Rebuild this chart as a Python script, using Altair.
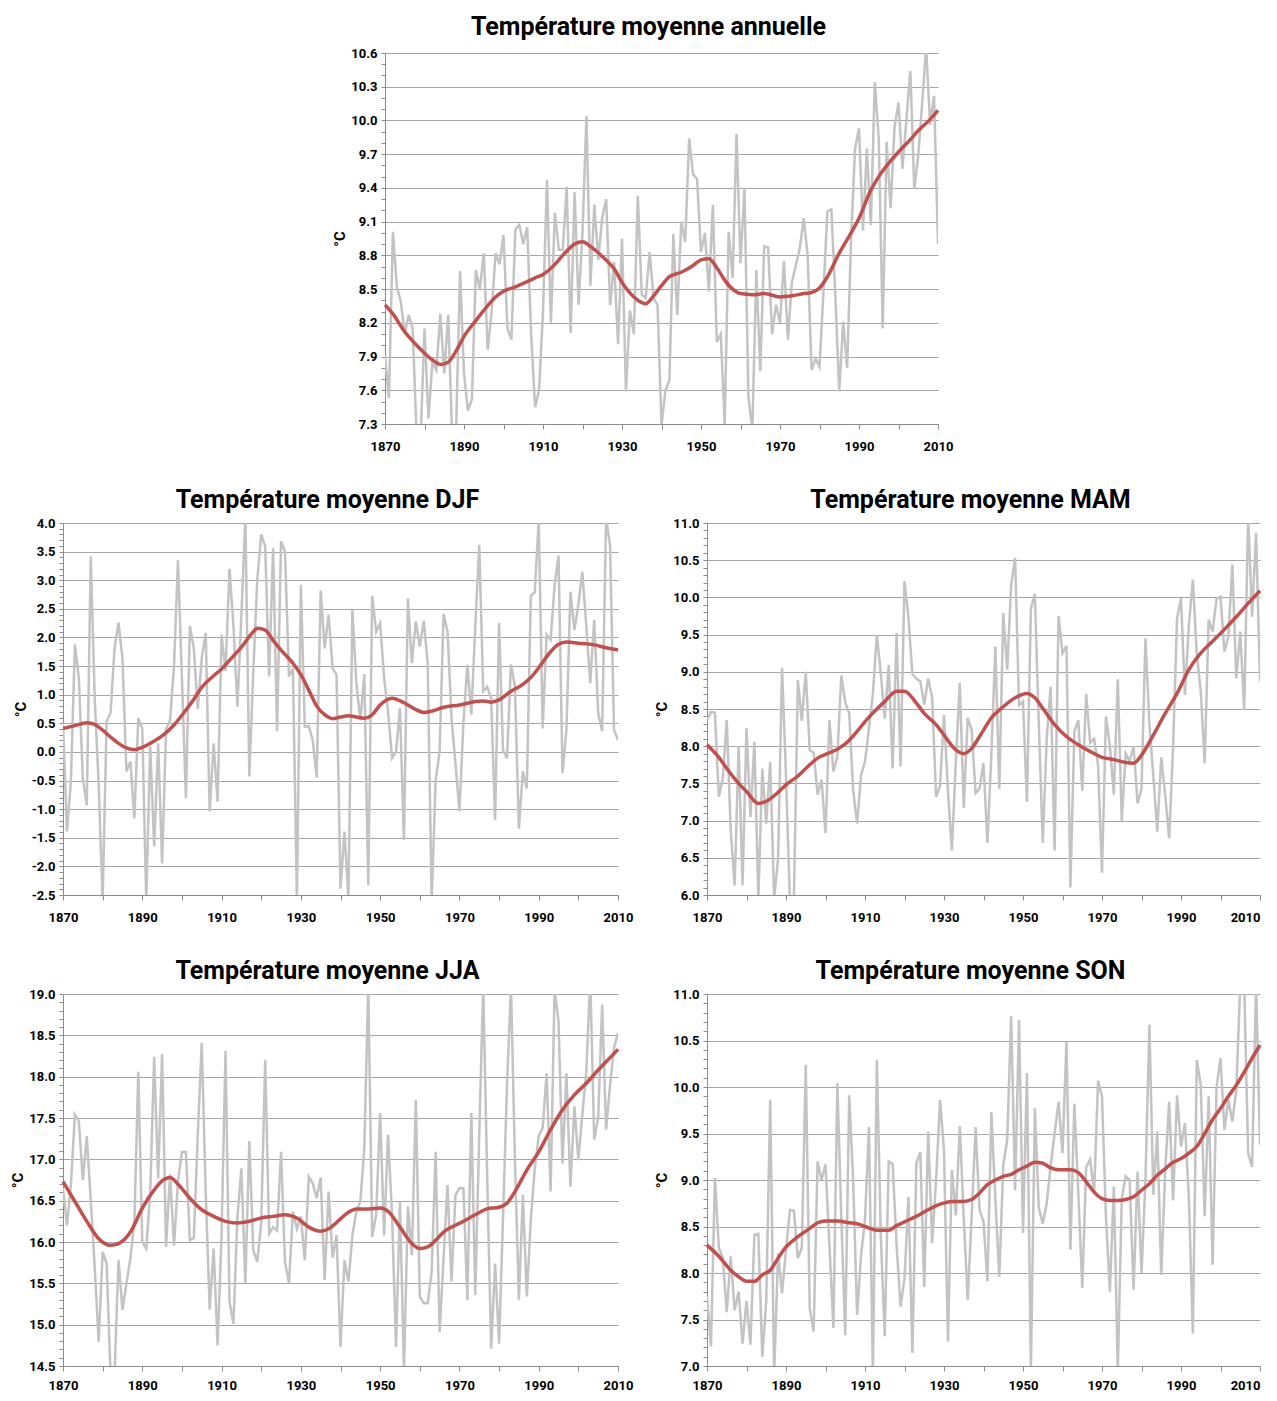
import altair as alt
import pandas as pd

YEARS = list(range(1870, 2011))

# ---- Température moyenne annuelle (gray yearly series) ----
ANNUAL = [
    7.91, 7.53, 9.01, 8.52, 8.39, 8.10, 8.27, 8.15, 7.20, 7.15,
    8.15, 7.35, 7.85, 7.78, 8.28, 7.75, 8.27, 7.20, 7.25, 8.66,
    7.75, 7.42, 7.52, 8.67, 8.50, 8.82, 7.96, 8.30, 8.82, 8.72,
    8.98, 8.15, 8.05, 9.03, 9.07, 8.90, 9.05, 8.10, 7.45, 7.60,
    8.30, 9.47, 8.20, 9.18, 8.85, 8.85, 9.41, 8.11, 9.36, 8.36,
    9.00, 10.04, 8.53, 9.25, 8.76, 9.14, 9.30, 8.36, 8.74, 8.01,
    8.95, 7.59, 8.31, 8.10, 9.33, 8.45, 8.42, 8.83, 8.42, 8.36,
    7.29, 7.60, 7.69, 8.99, 8.27, 9.10, 8.92, 9.84, 9.52, 9.48,
    8.83, 9.00, 8.48, 9.25, 8.03, 8.10, 7.30, 9.01, 8.60, 9.88,
    8.73, 9.40, 7.54, 7.25, 8.67, 7.77, 8.88, 8.87, 8.10, 8.36,
    8.20, 8.75, 8.05, 8.56, 8.71, 8.86, 9.13, 8.80, 7.78, 7.88,
    7.81, 8.48, 9.19, 9.21, 8.45, 7.59, 8.21, 7.80, 8.95, 9.75,
    9.93, 9.02, 9.75, 9.07, 10.34, 9.84, 8.15, 9.81, 9.22, 9.94,
    10.16, 9.57, 10.01, 10.44, 9.39, 9.69, 10.16, 10.65, 9.96, 10.22,
    8.90,
]
ANNUAL_SMOOTH_YEARS = [1870, 1872, 1875, 1878, 1880, 1882, 1884, 1886, 1888, 1890,
                       1893, 1895, 1898, 1900, 1903, 1905, 1908, 1910, 1913, 1915,
                       1918, 1920, 1922, 1925, 1928, 1930, 1933, 1935, 1936, 1938,
                       1940, 1942, 1945, 1948, 1950, 1952, 1954, 1956, 1958, 1960,
                       1963, 1966, 1970, 1973, 1976, 1978, 1980, 1982, 1985, 1988,
                       1990, 1993, 1995, 1998, 2000, 2003, 2005, 2008, 2010]
ANNUAL_SMOOTH = [8.36, 8.28, 8.12, 8.00, 7.93, 7.87, 7.83, 7.85, 7.95, 8.08,
                 8.22, 8.31, 8.43, 8.48, 8.52, 8.55, 8.60, 8.63, 8.72, 8.80,
                 8.90, 8.92, 8.88, 8.79, 8.68, 8.56, 8.43, 8.38, 8.37, 8.44,
                 8.53, 8.61, 8.65, 8.71, 8.76, 8.77, 8.69, 8.58, 8.50, 8.46,
                 8.45, 8.46, 8.43, 8.44, 8.46, 8.47, 8.51, 8.61, 8.82, 9.00,
                 9.13, 9.38, 9.50, 9.64, 9.72, 9.83, 9.91, 10.01, 10.09]

# ---- DJF ----
DJF = [
    0.50, -1.39, -0.50, 1.88, 1.29, -0.46, -0.93, 3.42, 0.94, -0.58,
    -2.60, 0.53, 0.68, 1.81, 2.26, 1.64, -0.34, -0.17, -1.16, 0.59,
    0.41, -2.60, 0.10, -1.65, 0.15, -1.95, 0.40, 0.55, 1.50, 3.35,
    1.30, -0.81, 2.20, 1.81, 0.75, 1.64, 2.08, -1.04, 0.15, -0.87,
    2.05, 1.41, 3.20, 2.20, 0.79, 2.40, 4.10, -0.43, 1.40, 3.00,
    3.80, 3.59, 1.32, 3.56, 0.36, 3.68, 3.50, 1.32, 1.46, -2.60,
    2.92, 0.44, 0.45, 0.20, -0.45, 2.82, 1.81, 2.40, 1.46, 1.35,
    -2.39, -1.39, -2.55, 2.48, 1.20, 0.55, 1.36, -2.33, 2.73, 2.10,
    2.25, 1.30, 0.70, -0.11, 0.00, 0.76, -1.54, 2.68, 1.55, 2.28,
    1.84, 2.29, 1.55, -2.60, -0.50, 0.00, 2.41, 2.10, 0.60, -0.20,
    -1.04, 0.50, 1.52, 0.65, 2.20, 3.62, 1.06, 1.14, 0.94, -1.19,
    2.25, 0.03, -0.11, 1.53, 1.14, -1.34, -0.34, -0.64, 2.73, 2.79,
    4.05, 0.41, 2.05, 1.96, 2.90, 3.43, -0.37, 0.40, 2.80, 2.13,
    2.57, 3.15, 2.20, 1.20, 2.31, 0.68, 0.36, 4.10, 3.60, 0.38,
    0.21,
]
DJF_SMOOTH_YEARS = [1870, 1873, 1876, 1878, 1880, 1882, 1884, 1886, 1888, 1890,
                    1893, 1895, 1898, 1900, 1903, 1905, 1908, 1910, 1912, 1915,
                    1918, 1919, 1921, 1923, 1925, 1928, 1930, 1932, 1934, 1936,
                    1938, 1940, 1942, 1944, 1946, 1948, 1950, 1953, 1956, 1959,
                    1961, 1963, 1966, 1970, 1974, 1976, 1978, 1980, 1983, 1986,
                    1988, 1990, 1993, 1995, 1997, 2000, 2004, 2007, 2010]
DJF_SMOOTH = [0.41, 0.46, 0.51, 0.48, 0.38, 0.26, 0.15, 0.07, 0.04, 0.08,
              0.19, 0.28, 0.47, 0.64, 0.92, 1.13, 1.33, 1.45, 1.60, 1.83,
              2.10, 2.16, 2.13, 1.95, 1.78, 1.55, 1.35, 1.08, 0.80, 0.65,
              0.58, 0.61, 0.63, 0.61, 0.59, 0.65, 0.82, 0.94, 0.86, 0.74,
              0.69, 0.71, 0.78, 0.82, 0.88, 0.89, 0.87, 0.91, 1.06, 1.18,
              1.30, 1.47, 1.75, 1.88, 1.92, 1.90, 1.87, 1.82, 1.78]

# ---- MAM ----
MAM = [
    8.35, 8.46, 8.45, 7.32, 7.57, 8.35, 6.87, 6.13, 8.00, 6.13,
    8.24, 7.05, 8.06, 5.95, 7.70, 6.96, 7.79, 5.95, 6.49, 9.05,
    7.60, 5.90, 5.95, 8.89, 8.34, 9.00, 7.95, 7.91, 7.35, 7.55,
    6.83, 8.35, 7.66, 7.86, 8.95, 8.59, 8.44, 7.41, 6.96, 7.61,
    7.79, 8.24, 8.71, 9.50, 8.98, 8.37, 9.09, 7.70, 9.52, 7.73,
    10.22, 9.72, 8.97, 8.91, 8.87, 8.56, 8.91, 8.65, 7.32, 7.47,
    8.42, 7.40, 6.60, 7.80, 8.85, 7.17, 8.38, 8.22, 7.37, 7.43,
    7.77, 6.70, 7.90, 9.34, 7.43, 9.79, 9.03, 10.17, 10.53, 8.55,
    8.60, 7.25, 9.85, 10.05, 8.30, 6.70, 8.10, 8.80, 6.60, 9.75,
    9.25, 9.35, 6.10, 8.20, 8.35, 7.40, 8.70, 8.05, 8.10, 7.75,
    6.30, 8.40, 8.00, 7.35, 8.90, 7.00, 7.90, 7.80, 8.00, 7.23,
    7.43, 9.45, 8.30, 7.60, 6.85, 7.85, 7.35, 6.76, 8.00, 9.72,
    9.99, 8.69, 9.63, 10.24, 9.23, 8.74, 7.77, 9.70, 9.54, 9.98,
    10.01, 9.27, 9.48, 10.44, 8.91, 9.54, 8.49, 11.10, 9.74, 10.87,
    8.87,
]
MAM_SMOOTH_YEARS = [1870, 1873, 1875, 1878, 1880, 1883, 1885, 1888, 1890, 1893,
                    1895, 1898, 1900, 1903, 1905, 1908, 1910, 1913, 1915, 1918,
                    1920, 1923, 1925, 1928, 1930, 1933, 1935, 1937, 1939, 1942,
                    1945, 1948, 1951, 1953, 1955, 1958, 1961, 1964, 1967, 1970,
                    1973, 1976, 1978, 1980, 1983, 1986, 1989, 1992, 1995, 1998,
                    2001, 2004, 2007, 2010]
MAM_SMOOTH = [8.02, 7.85, 7.70, 7.50, 7.39, 7.23, 7.26, 7.38, 7.48, 7.60,
              7.70, 7.84, 7.89, 7.96, 8.03, 8.20, 8.33, 8.50, 8.60, 8.74,
              8.74, 8.58, 8.44, 8.29, 8.15, 7.95, 7.90, 7.97, 8.13, 8.38,
              8.53, 8.65, 8.71, 8.65, 8.51, 8.29, 8.13, 8.02, 7.93, 7.85,
              7.82, 7.78, 7.77, 7.88, 8.15, 8.44, 8.71, 9.03, 9.25, 9.41,
              9.57, 9.74, 9.92, 10.09]

# ---- JJA ----
JJA = [
    16.65, 16.20, 16.70, 17.54, 17.46, 16.75, 17.28, 16.50, 15.70, 14.79,
    15.88, 15.74, 14.40, 14.40, 15.78, 15.18, 15.50, 15.80, 16.25, 18.06,
    16.00, 15.92, 16.60, 18.24, 16.77, 18.27, 15.94, 16.82, 15.96, 16.73,
    17.09, 17.09, 16.02, 16.05, 17.30, 18.41, 16.60, 15.18, 15.92, 14.75,
    16.10, 18.31, 15.28, 15.01, 16.31, 16.89, 15.50, 17.22, 15.90, 15.76,
    16.23, 18.20, 16.10, 16.18, 16.14, 17.09, 15.76, 15.50, 16.37, 16.16,
    16.31, 15.78, 16.79, 16.71, 16.53, 16.78, 15.54, 16.61, 15.81, 16.08,
    14.73, 15.78, 15.52, 16.08, 16.37, 16.49, 17.13, 19.10, 16.06, 16.33,
    17.56, 16.08, 17.30, 16.33, 14.73, 16.49, 14.45, 16.43, 15.84, 17.72,
    15.34, 15.26, 15.26, 15.64, 17.09, 14.91, 15.80, 16.69, 15.52, 16.57,
    16.65, 16.65, 15.30, 17.56, 15.36, 17.30, 19.10, 16.80, 14.71, 15.74,
    14.77, 16.30, 17.90, 19.10, 17.00, 15.30, 16.57, 15.34, 16.27, 16.89,
    17.28, 17.38, 18.04, 16.61, 19.05, 18.67, 16.95, 18.04, 16.67, 17.64,
    16.99, 17.54, 18.06, 19.20, 17.24, 17.50, 18.87, 17.36, 17.90, 18.35,
    18.53,
]
JJA_SMOOTH_YEARS = [1870, 1873, 1876, 1879, 1882, 1884, 1887, 1890, 1893, 1895,
                    1897, 1899, 1902, 1905, 1908, 1911, 1914, 1917, 1920, 1923,
                    1926, 1929, 1932, 1935, 1937, 1940, 1942, 1944, 1947, 1950,
                    1952, 1955, 1958, 1960, 1962, 1964, 1966, 1968, 1971, 1974,
                    1977, 1980, 1982, 1984, 1987, 1990, 1993, 1996, 1999, 2002,
                    2005, 2008, 2010]
JJA_SMOOTH = [16.73, 16.49, 16.25, 16.04, 15.96, 15.98, 16.12, 16.41, 16.63, 16.74,
              16.78, 16.70, 16.53, 16.39, 16.31, 16.25, 16.23, 16.25, 16.29, 16.31,
              16.33, 16.29, 16.18, 16.13, 16.16, 16.28, 16.36, 16.40, 16.40, 16.41,
              16.37, 16.18, 15.98, 15.92, 15.94, 16.02, 16.12, 16.18, 16.25, 16.33,
              16.40, 16.42, 16.47, 16.61, 16.87, 17.09, 17.36, 17.60, 17.78, 17.92,
              18.08, 18.23, 18.33]

# ---- SON ----
SON = [
    7.75, 7.21, 9.02, 8.27, 8.16, 7.58, 8.18, 7.60, 7.80, 7.24,
    7.70, 7.23, 8.41, 8.42, 7.10, 7.70, 9.86, 6.90, 8.21, 7.78,
    8.25, 8.68, 8.67, 8.16, 8.27, 10.24, 7.62, 7.37, 9.20, 9.00,
    9.17, 8.30, 7.41, 10.04, 8.60, 7.33, 9.91, 9.00, 7.55, 8.19,
    8.57, 9.57, 6.90, 10.29, 8.40, 7.32, 9.20, 9.17, 8.30, 7.64,
    7.94, 8.82, 7.14, 9.18, 9.30, 7.85, 9.52, 8.32, 9.00, 9.86,
    9.32, 7.26, 9.11, 8.62, 9.58, 8.60, 7.71, 8.60, 9.57, 8.68,
    8.55, 7.91, 9.73, 8.80, 7.96, 9.16, 9.43, 10.76, 8.89, 10.72,
    8.43, 10.15, 6.95, 9.77, 8.70, 8.53, 8.75, 9.15, 9.50, 9.84,
    9.29, 10.49, 8.25, 9.82, 8.86, 7.84, 9.14, 9.22, 8.86, 10.07,
    9.90, 8.60, 7.80, 8.93, 6.95, 8.80, 9.04, 9.00, 7.82, 9.09,
    8.00, 9.00, 10.67, 8.84, 9.52, 7.98, 9.10, 9.84, 8.78, 9.91,
    9.36, 9.61, 8.80, 7.35, 10.29, 10.02, 8.61, 9.90, 8.09, 10.00,
    10.31, 9.54, 9.86, 9.63, 9.97, 11.10, 11.10, 9.29, 9.14, 11.10,
    9.38,
]
SON_SMOOTH_YEARS = [1870, 1873, 1876, 1878, 1880, 1882, 1884, 1886, 1888, 1890,
                    1893, 1896, 1898, 1900, 1903, 1906, 1908, 1910, 1913, 1916,
                    1918, 1920, 1923, 1926, 1929, 1932, 1935, 1937, 1939, 1941,
                    1943, 1945, 1947, 1949, 1951, 1953, 1955, 1957, 1959, 1962,
                    1964, 1966, 1968, 1970, 1972, 1974, 1976, 1978, 1980, 1982,
                    1984, 1986, 1988, 1990, 1992, 1994, 1996, 1998, 2000, 2002,
                    2004, 2006, 2008, 2010]
SON_SMOOTH = [8.30, 8.18, 8.03, 7.96, 7.91, 7.91, 7.98, 8.03, 8.16, 8.28,
              8.39, 8.48, 8.54, 8.56, 8.56, 8.54, 8.53, 8.50, 8.46, 8.46,
              8.51, 8.55, 8.61, 8.68, 8.74, 8.77, 8.77, 8.79, 8.86, 8.95,
              9.00, 9.04, 9.06, 9.11, 9.15, 9.19, 9.18, 9.13, 9.11, 9.11,
              9.08, 8.98, 8.87, 8.80, 8.78, 8.78, 8.79, 8.82, 8.89, 8.96,
              9.05, 9.12, 9.19, 9.23, 9.29, 9.36, 9.50, 9.65, 9.77, 9.90,
              10.02, 10.16, 10.31, 10.45]

FONT = "Roboto"
GRAY = "#c3c3c3"
RED = "#c0504d"


def make_panel(title, gray_vals, red_years, red_vals, ymin, ymax, ystep, w, h,
               toff, xpad, last_right=False):
    assert len(gray_vals) == len(YEARS), (title, len(gray_vals))
    assert len(red_years) == len(red_vals), (title, len(red_years), len(red_vals))
    df_g = pd.DataFrame({"Année": YEARS, "T": gray_vals})
    df_r = pd.DataFrame({"Année": red_years, "T": red_vals})
    nminor = int(round((ymax - ymin) / 0.1))
    yvals = [round(ymin + 0.1 * i, 1) for i in range(nminor + 1)]
    major = (f"abs((datum.value - ({ymin})) / {ystep} - "
             f"round((datum.value - ({ymin})) / {ystep})) < 0.01")
    yaxis = alt.Axis(
        values=yvals,
        tickCount=1000,
        title="°C",
        labelExpr=f"({major}) ? replace(format(datum.value, '.1f'), '\u2212', '-') : ''",
        gridOpacity={"condition": {"test": major, "value": 1}, "value": 0},
        labelOverlap=False,
        labelPadding=4,
        tickSize=4,
        titlePadding=3,
    )
    xaxis_kw = dict(
        values=list(range(1870, 2011, 10)),
        tickCount=1000,
        format="d",
        labelExpr="datum.value % 20 == 10 ? datum.label : ''",
        grid=False,
        tickSize=5,
        labelPadding=xpad,
        labelFlush=False,
        labelOverlap=False,
        title=None,
    )
    if last_right:
        # keep the last year label inside the page at the right edge
        xaxis_kw["labelAlign"] = {"condition": {"test": "datum.value == 2010", "value": "right"},
                                  "value": "center"}
    xaxis = alt.Axis(**xaxis_kw)
    xscale = alt.Scale(domain=[1870, 2010], nice=False, zero=False)
    yscale = alt.Scale(domain=[ymin, ymax], nice=False, zero=False)
    gray = alt.Chart(df_g).mark_line(color=GRAY, strokeWidth=2.5, clip=True).encode(
        x=alt.X("Année:Q", scale=xscale, axis=xaxis),
        y=alt.Y("T:Q", scale=yscale, axis=yaxis),
    )
    red = alt.Chart(df_r).mark_line(color=RED, strokeWidth=3.5, interpolate="monotone").encode(
        x=alt.X("Année:Q", scale=xscale),
        y=alt.Y("T:Q", scale=yscale),
    )
    return alt.layer(gray, red).properties(
        width=w,
        height=h,
        title=alt.TitleParams(title, font=FONT, fontSize=25, fontWeight="bold",
                              anchor="middle", frame="group", dx=-13, offset=toff,
                              color="#000000"),
    )


top = make_panel("Température moyenne annuelle", ANNUAL, ANNUAL_SMOOTH_YEARS, ANNUAL_SMOOTH,
                 7.3, 10.6, 0.3, 553, 371, 7, 11)
djf = make_panel("Température moyenne DJF", DJF, DJF_SMOOTH_YEARS, DJF_SMOOTH,
                 -2.5, 4.0, 0.5, 555, 372, 4, 11)
mam = make_panel("Température moyenne MAM", MAM, MAM_SMOOTH_YEARS, MAM_SMOOTH,
                 6.0, 11.0, 0.5, 553, 372, 4, 11, last_right=True)
jja = make_panel("Température moyenne JJA", JJA, JJA_SMOOTH_YEARS, JJA_SMOOTH,
                 14.5, 19.0, 0.5, 555, 372, 4, 8)
son = make_panel("Température moyenne SON", SON, SON_SMOOTH_YEARS, SON_SMOOTH,
                 7.0, 11.0, 0.5, 553, 372, 4, 8, last_right=True)

# invisible horizontal spacer that shifts the top panel to the right
spacer = alt.Chart(pd.DataFrame({"s": [0]})).mark_rule(opacity=0).encode(
    x=alt.value(0), x2=alt.value(1), y=alt.value(0), y2=alt.value(1)
).properties(width=269, height=10)

chart = alt.vconcat(
    alt.hconcat(spacer, top, spacing=0),
    alt.hconcat(djf, mam, spacing=21),
    alt.hconcat(jja, son, spacing=21),
    spacing=35,
).properties(
    padding={"left": 2, "top": 7, "right": 0, "bottom": 1},
).configure_view(
    stroke=None,
).configure_axis(
    labelFont=FONT,
    labelFontSize=13,
    labelFontWeight="bold",
    labelColor="#000000",
    titleFont=FONT,
    titleFontSize=15,
    titleFontWeight="bold",
    titleColor="#000000",
    domainColor="#8c8c8c",
    domainWidth=1,
    tickColor="#8c8c8c",
    gridColor="#a6a6a6",
    gridWidth=1,
)

chart.save("out.html", embed_options={"renderer": "svg", "actions": False})
